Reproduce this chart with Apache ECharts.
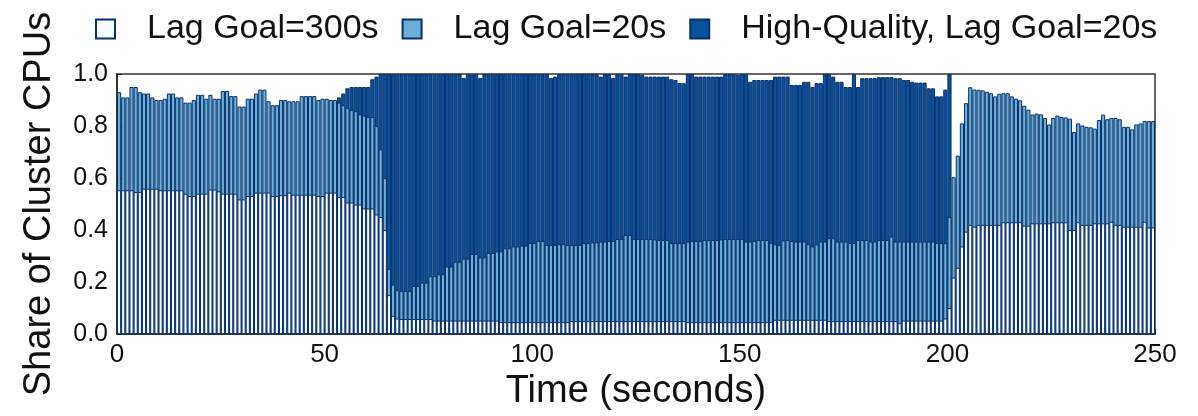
<!DOCTYPE html>
<html>
<head>
<meta charset="utf-8">
<script src="https://cdn.jsdelivr.net/npm/echarts@6/dist/echarts.min.js"></script>
<style>
  html, body { margin: 0; padding: 0; background: #fff; }
  #main { width: 1198px; height: 416px; }
</style>
</head>
<body>
<div id="main"></div>
<script>
// one bar per second, t = 0..249
// share of the Lag Goal=300s job (bottom of the stack)
var lag300 = [
  0.553,0.553,0.553,0.553,0.546,0.546,0.559,0.559,0.559,0.559,
  0.553,0.553,0.553,0.553,0.553,0.553,0.54,0.531,0.531,0.54,
  0.54,0.54,0.556,0.556,0.549,0.54,0.54,0.54,0.54,0.518,
  0.518,0.531,0.531,0.544,0.544,0.544,0.544,0.531,0.531,0.534,
  0.534,0.544,0.536,0.536,0.536,0.536,0.536,0.536,0.531,0.531,
  0.544,0.544,0.544,0.527,0.527,0.506,0.506,0.498,0.498,0.483,
  0.483,0.483,0.46,0.45,0.40,0.15,0.07,0.06,0.058,0.058,
  0.058,0.058,0.058,0.058,0.058,0.058,0.052,0.052,0.052,0.052,
  0.052,0.052,0.052,0.052,0.052,0.052,0.052,0.052,0.052,0.052,
  0.052,0.052,0.046,0.046,0.046,0.046,0.046,0.046,0.046,0.046,
  0.046,0.046,0.046,0.046,0.046,0.046,0.046,0.046,0.046,0.05,
  0.05,0.05,0.05,0.05,0.05,0.05,0.05,0.05,0.05,0.05,
  0.05,0.05,0.05,0.05,0.05,0.05,0.05,0.05,0.05,0.05,
  0.05,0.05,0.05,0.05,0.05,0.05,0.05,0.046,0.046,0.046,
  0.046,0.046,0.046,0.046,0.046,0.046,0.046,0.046,0.046,0.046,
  0.046,0.046,0.046,0.046,0.046,0.046,0.046,0.046,0.055,0.055,
  0.055,0.055,0.055,0.055,0.055,0.055,0.055,0.055,0.055,0.055,
  0.055,0.05,0.05,0.05,0.05,0.05,0.05,0.05,0.05,0.05,
  0.05,0.05,0.05,0.05,0.05,0.05,0.05,0.05,0.042,0.052,
  0.052,0.052,0.052,0.052,0.052,0.052,0.052,0.052,0.052,0.06,
  0.10,0.217,0.255,0.337,0.394,0.42,0.413,0.42,0.42,0.42,
  0.42,0.42,0.42,0.43,0.43,0.43,0.43,0.43,0.417,0.417,
  0.426,0.426,0.426,0.426,0.426,0.43,0.43,0.43,0.43,0.40,
  0.40,0.43,0.42,0.42,0.42,0.426,0.426,0.426,0.426,0.432,
  0.42,0.42,0.413,0.413,0.413,0.413,0.413,0.432,0.41,0.41
];
// top of the Lag Goal=20s segment (300s + 20s)
var lag20Top = [
  0.93,0.91,0.91,0.95,0.95,0.93,0.925,0.925,0.91,0.90,
  0.90,0.905,0.925,0.925,0.91,0.91,0.89,0.89,0.90,0.92,
  0.92,0.905,0.92,0.905,0.905,0.935,0.935,0.915,0.915,0.875,
  0.875,0.905,0.905,0.925,0.94,0.94,0.895,0.88,0.88,0.90,
  0.90,0.895,0.895,0.895,0.915,0.915,0.915,0.915,0.90,0.905,
  0.905,0.90,0.90,0.89,0.88,0.87,0.862,0.857,0.845,0.84,
  0.835,0.835,0.80,0.71,0.60,0.25,0.19,0.17,0.166,0.166,
  0.166,0.185,0.185,0.198,0.198,0.223,0.223,0.23,0.23,0.26,
  0.26,0.278,0.278,0.29,0.29,0.308,0.308,0.295,0.295,0.312,
  0.312,0.318,0.318,0.33,0.33,0.337,0.337,0.34,0.34,0.35,
  0.35,0.358,0.358,0.343,0.343,0.343,0.346,0.346,0.343,0.343,
  0.343,0.343,0.35,0.35,0.353,0.353,0.356,0.356,0.358,0.358,
  0.366,0.366,0.381,0.381,0.366,0.366,0.366,0.366,0.366,0.364,
  0.362,0.362,0.362,0.35,0.35,0.35,0.35,0.355,0.358,0.358,
  0.358,0.362,0.362,0.362,0.362,0.364,0.366,0.366,0.366,0.366,
  0.366,0.356,0.356,0.358,0.362,0.362,0.362,0.35,0.345,0.343,
  0.36,0.362,0.358,0.356,0.356,0.356,0.345,0.337,0.345,0.356,
  0.356,0.369,0.369,0.356,0.356,0.356,0.35,0.35,0.362,0.362,
  0.362,0.356,0.356,0.362,0.362,0.362,0.375,0.356,0.356,0.356,
  0.356,0.356,0.356,0.356,0.356,0.356,0.356,0.35,0.35,0.35,
  0.45,0.603,0.686,0.81,0.888,0.949,0.94,0.939,0.937,0.932,
  0.926,0.914,0.924,0.926,0.926,0.914,0.905,0.899,0.878,0.863,
  0.844,0.848,0.845,0.831,0.806,0.831,0.84,0.835,0.833,0.828,
  0.777,0.81,0.802,0.797,0.795,0.79,0.823,0.844,0.826,0.831,
  0.831,0.826,0.797,0.797,0.787,0.806,0.81,0.819,0.819,0.819
];
// top of the whole stack (with High-Quality, Lag Goal=20s)
var totalTop = [
  0.93,0.91,0.91,0.95,0.95,0.93,0.925,0.925,0.91,0.90,
  0.90,0.905,0.925,0.925,0.91,0.91,0.89,0.89,0.90,0.92,
  0.92,0.905,0.92,0.905,0.905,0.935,0.935,0.915,0.915,0.875,
  0.875,0.905,0.905,0.925,0.94,0.94,0.895,0.88,0.88,0.90,
  0.90,0.895,0.895,0.895,0.915,0.915,0.915,0.915,0.90,0.905,
  0.905,0.90,0.90,0.91,0.925,0.945,0.95,0.95,0.95,0.95,
  0.95,0.98,0.99,1.0,1.0,1.0,1.0,1.0,1.0,1.0,
  1.0,1.0,1.0,1.0,1.0,1.0,1.0,1.0,1.0,1.0,
  1.0,1.0,1.0,0.985,1.0,1.0,1.0,0.985,1.0,1.0,
  1.0,1.0,1.0,1.0,1.0,1.0,1.0,1.0,1.0,1.0,
  1.0,1.0,1.0,1.0,0.985,0.99,1.0,1.0,1.0,1.0,
  1.0,1.0,1.0,1.0,1.0,1.0,0.99,1.0,1.0,0.985,
  1.0,1.0,0.99,1.0,1.0,1.0,0.997,0.99,0.99,0.99,
  0.99,0.99,0.99,0.98,0.977,0.965,0.965,1.0,1.0,0.99,
  0.99,0.99,0.99,0.99,0.99,0.99,1.0,1.0,1.0,0.997,
  1.0,1.0,0.97,0.977,0.977,0.977,0.977,0.977,0.99,0.99,
  0.99,0.99,0.958,0.958,0.958,0.97,0.97,0.95,0.965,0.965,
  1.0,1.0,0.99,0.97,0.97,0.95,0.95,1.0,0.95,0.984,
  0.984,0.984,0.984,0.988,0.988,0.988,0.988,0.984,0.984,0.977,
  0.977,0.97,0.967,0.967,0.967,0.945,0.945,0.914,0.914,0.94,
  1.0,0.603,0.686,0.81,0.888,0.949,0.94,0.939,0.937,0.932,
  0.926,0.914,0.924,0.926,0.926,0.914,0.905,0.899,0.878,0.863,
  0.844,0.848,0.845,0.831,0.806,0.831,0.84,0.835,0.833,0.828,
  0.777,0.81,0.802,0.797,0.795,0.79,0.823,0.844,0.826,0.831,
  0.831,0.826,0.797,0.797,0.787,0.806,0.81,0.819,0.819,0.819
];
var xTicks = [0, 50, 100, 150, 200, 250];
var yTicks = [0.0, 0.2, 0.4, 0.6, 0.8, 1.0];

var names = ['Lag Goal=300s', 'Lag Goal=20s', 'High-Quality, Lag Goal=20s'];
var fills = ['#f7fbff', '#6baed6', '#08519c'];
var edge = '#08306b';
var font = 'Liberation Sans, Arial, Helvetica, sans-serif';

// the stack is drawn as overlapping bars: each series reaches its
// cumulative top, later series are painted over earlier ones
function tops(arr, below) {
  return arr.map(function (v, i) {
    var show = !below || v - below[i] > 0.0005;
    return [i + 0.5, show ? v : null];
  });
}

function bar(k, data, z) {
  return {
    name: names[k],
    type: 'bar',
    barWidth: '100%',
    barGap: '-100%',
    z: z,
    data: data,
    itemStyle: { color: fills[k], borderColor: edge, borderWidth: 1 },
    emphasis: { disabled: true }
  };
}

var chart = echarts.init(document.getElementById('main'));
chart.setOption({
  animation: false,
  textStyle: { fontFamily: font },
  legend: {
    left: 95,
    top: 12,
    padding: 0,
    itemWidth: 19,
    itemHeight: 19,
    itemGap: 23,
    icon: 'rect',
    selectedMode: false,
    data: names,
    textStyle: { fontSize: 34, color: '#111', fontFamily: font, padding: [0, 0, 0, 27] }
  },
  grid: {
    left: 117, right: 43, top: 74, bottom: 79,
    show: true, borderColor: '#333', borderWidth: 1.5
  },
  xAxis: {
    type: 'value',
    min: xTicks[0],
    max: xTicks[xTicks.length - 1],
    interval: xTicks[1] - xTicks[0],
    name: 'Time (seconds)',
    nameLocation: 'middle',
    nameGap: 28,
    nameTextStyle: { fontSize: 38, color: '#111', fontFamily: font },
    axisLine: { lineStyle: { color: '#222', width: 1.5 } },
    axisTick: { inside: true, length: 5, lineStyle: { color: '#222' } },
    axisLabel: { fontSize: 26, color: '#111', margin: 8 },
    splitLine: { show: false }
  },
  yAxis: {
    type: 'value',
    min: yTicks[0],
    max: yTicks[yTicks.length - 1],
    interval: 0.2,
    name: 'Share of Cluster CPUs',
    nameLocation: 'middle',
    nameGap: 58,
    nameTextStyle: { fontSize: 38, color: '#111', fontFamily: font },
    axisLine: { show: true, lineStyle: { color: '#222', width: 1.5 } },
    axisTick: { show: true, inside: true, length: 5, lineStyle: { color: '#222' } },
    axisLabel: { fontSize: 25, color: '#111', margin: 9, formatter: function (v) { return v.toFixed(1); } },
    splitLine: { show: false }
  },
  series: [
    bar(2, tops(totalTop, lag20Top), 2),
    bar(1, tops(lag20Top, lag300), 3),
    bar(0, tops(lag300), 4)
  ]
});
</script>
</body>
</html>
